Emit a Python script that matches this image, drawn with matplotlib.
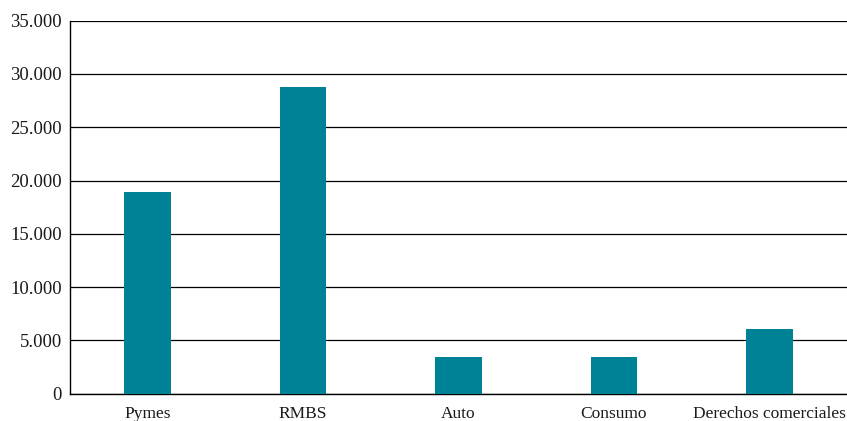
import matplotlib
matplotlib.use("Agg")
import matplotlib.pyplot as plt
from matplotlib.ticker import FuncFormatter, MultipleLocator

# volumes by asset type
categories = ["Pymes", "RMBS", "Auto", "Consumo", "Derechos comerciales"]
values = [18900, 28800, 3400, 3400, 6040]

plt.rcParams['font.family'] = ['Liberation Serif', 'DejaVu Serif']

fig = plt.figure(figsize=(8.47, 4.21), dpi=100)
ax = fig.add_axes([70 / 847, 27.3 / 421, 1 - 70 / 847, (393.7 - 20.7) / 421])

x = range(len(categories))
ax.bar(x, values, width=0.30, color="#008296", zorder=3)

ax.set_xlim(-0.5, len(categories) - 0.5)
ax.set_ylim(0, 35000)
ax.yaxis.set_major_locator(MultipleLocator(5000))
ax.yaxis.set_major_formatter(FuncFormatter(lambda v, p: f"{int(v):,}".replace(",", ".")))
ax.set_xticks(list(x))
ax.set_xticklabels(categories)

ax.grid(axis="y", color="black", linewidth=0.9, zorder=0)
ax.tick_params(axis="both", length=0, colors="#1a1a1a")
ax.tick_params(axis="x", pad=9, labelsize=12.5)
ax.tick_params(axis="y", pad=6, labelsize=13.5)

for s in ["top", "right"]:
    ax.spines[s].set_visible(False)
ax.spines["left"].set_color("black")
ax.spines["bottom"].set_color("black")
ax.spines["left"].set_linewidth(1.0)
ax.spines["bottom"].set_linewidth(1.0)

fig.savefig("out.png", dpi=100)
